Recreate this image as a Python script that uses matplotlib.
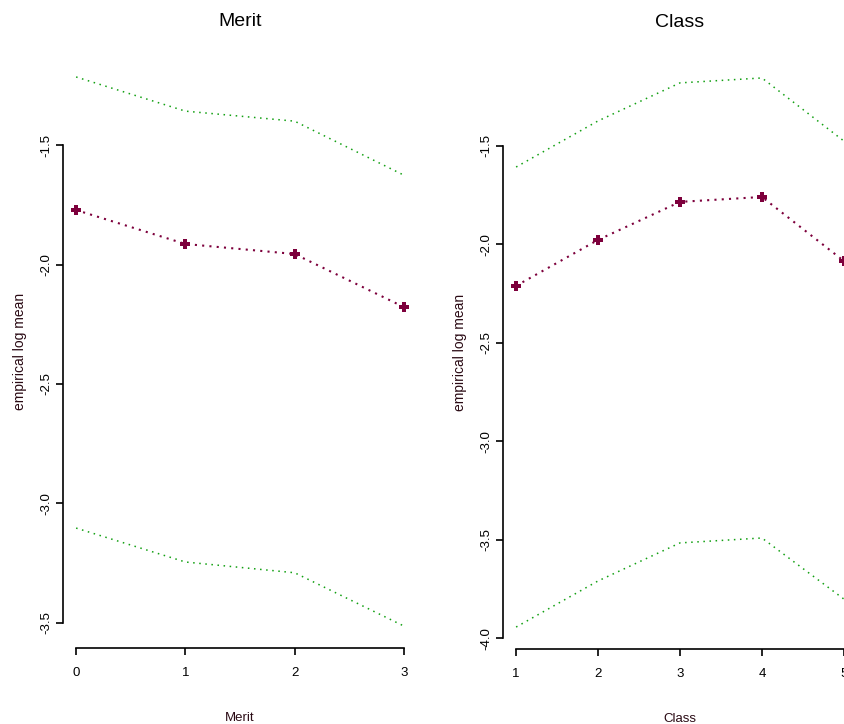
import matplotlib.pyplot as plt
import numpy as np

plt.rcParams['font.family'] = ['Liberation Sans', 'DejaVu Sans']

# empirical log means with upper/lower bands
merit = [0, 1, 2, 3]
merit_mean = [-1.772, -1.914, -1.956, -2.178]
merit_upper = [-1.215, -1.358, -1.400, -1.626]
merit_lower = [-3.103, -3.245, -3.290, -3.513]

klass = [1, 2, 3, 4, 5]
klass_mean = [-2.210, -1.977, -1.784, -1.759, -2.084]
klass_upper = [-1.607, -1.373, -1.180, -1.155, -1.475]
klass_lower = [-3.942, -3.708, -3.515, -3.490, -3.800]

merit_yticks = [-1.5, -2.0, -2.5, -3.0, -3.5]
klass_yticks = [-1.5, -2.0, -2.5, -3.0, -3.5, -4.0]

W, H = 844, 724
fig = plt.figure(figsize=(W / 100, H / 100), dpi=100)

red = '#7d003c'
green = '#12a012'
lab_col = '#2a0a14'


def panel(rect, x, mean, upper, lower, yticks, title):
    ax = fig.add_axes([rect[0] / W, 1 - rect[3] / H, (rect[2] - rect[0]) / W,
                       (rect[3] - rect[1]) / H])
    ax.plot(x, upper, ls=(0, (1, 3)), color=green, lw=1.1)
    ax.plot(x, lower, ls=(0, (1, 3)), color=green, lw=1.1)
    ax.plot(x, mean, ls=(0, (1, 2.5)), color=red, lw=1.5,
            marker='P', ms=7, mec=red, mfc=red, mew=0)
    # R-style 4% padding on both axes
    xr = max(x) - min(x)
    ax.set_xlim(min(x) - 0.04 * xr, max(x) + 0.04 * xr)
    lo, hi = min(lower), max(upper)
    yr = hi - lo
    ax.set_ylim(lo - 0.04 * yr, hi + 0.04 * yr)
    ax.set_xticks(x)
    ax.set_xticklabels([str(v) for v in x])
    ax.set_yticks(yticks)
    ax.set_yticklabels([f'{v:.1f}' for v in yticks], rotation=90, va='center')
    for s in ['top', 'right']:
        ax.spines[s].set_visible(False)
    ax.spines['left'].set_bounds(min(yticks), max(yticks))
    ax.spines['bottom'].set_bounds(min(x), max(x))
    ax.spines['left'].set_linewidth(1.2)
    ax.spines['bottom'].set_linewidth(1.2)
    ax.tick_params(length=5, width=1.2, labelsize=9.5)
    ax.tick_params(axis='x', pad=8.5)
    ax.tick_params(axis='y', pad=3)
    ax.set_title(title, fontsize=14, pad=21)
    ax.set_xlabel(title, fontsize=9.5, color=lab_col, labelpad=24)
    ax.set_ylabel('empirical log mean', fontsize=10, color=lab_col, labelpad=9)
    return ax


panel((63, 55, 417, 648), merit, merit_mean, merit_upper, merit_lower,
      merit_yticks, 'Merit')
panel((503, 56, 857, 649), klass, klass_mean, klass_upper, klass_lower,
      klass_yticks, 'Class')

fig.savefig('out.png', dpi=100)
